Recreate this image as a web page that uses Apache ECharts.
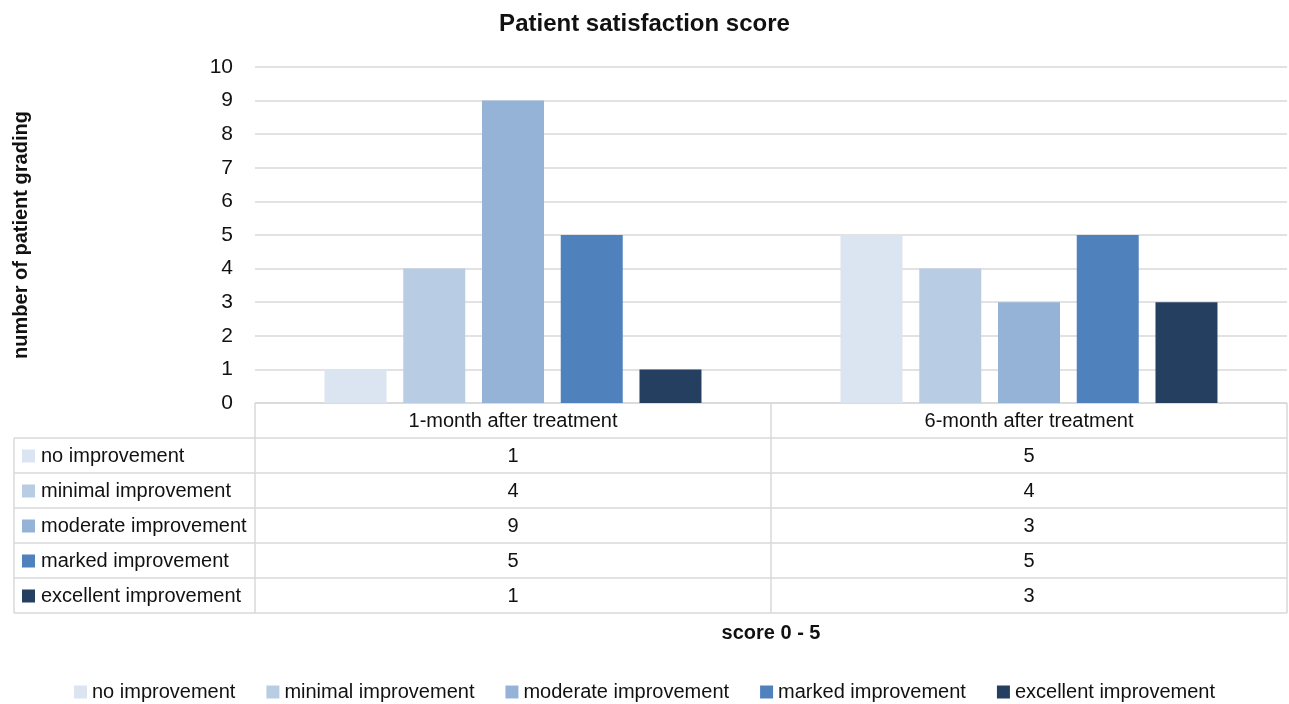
<!DOCTYPE html>
<html>
<head>
<meta charset="utf-8">
<script src="https://cdn.jsdelivr.net/npm/echarts@6/dist/echarts.min.js"></script>
<style>
  html, body { margin: 0; padding: 0; background: #fff; }
  #chart { width: 1289px; height: 704px; }
</style>
</head>
<body>
<div id="chart"></div>
<script>
const categories = ['1-month after treatment', '6-month after treatment'];
const seriesNames = ['no improvement', 'minimal improvement', 'moderate improvement', 'marked improvement', 'excellent improvement'];
const noImprovement = [1, 5];
const minimalImprovement = [4, 4];
const moderateImprovement = [9, 3];
const markedImprovement = [5, 5];
const excellentImprovement = [1, 3];
const colors = ['#dbe5f1', '#b8cce4', '#95b3d7', '#4f81bd', '#243f60'];

const seriesValues = [noImprovement, minimalImprovement, moderateImprovement, markedImprovement, excellentImprovement];

const font = 'Liberation Sans, Arial, sans-serif';
const W = 1289, H = 704;
const gridLeft = 255, gridRight = 2, gridTop = 67, gridBottom = 301;
const tableLeft = 14, rowH = 35;
const plotRight = W - gridRight;
const baseY = H - gridBottom;
const colW = (plotRight - gridLeft) / categories.length;
const lineColor = '#d9d9d9';

const chart = echarts.init(document.getElementById('chart'));

// data table drawn under the plot
const graphic = [];
const hline = (x1, x2, y) => graphic.push({ type: 'line', shape: { x1, y1: y, x2, y2: y }, style: { stroke: lineColor, lineWidth: 1.5 }, silent: true });
const vline = (x, y1, y2) => graphic.push({ type: 'line', shape: { x1: x, y1, x2: x, y2 }, style: { stroke: lineColor, lineWidth: 1.5 }, silent: true });

hline(gridLeft, plotRight, baseY);
for (let r = 1; r <= seriesNames.length + 1; r++) hline(tableLeft, plotRight, baseY + r * rowH);
vline(tableLeft, baseY + rowH, baseY + rowH * (seriesNames.length + 1));
for (let c = 0; c <= categories.length; c++) vline(gridLeft + c * colW, baseY, baseY + rowH * (seriesNames.length + 1));

seriesNames.forEach((name, i) => {
  const cy = baseY + rowH * (i + 1) + rowH / 2;
  graphic.push({ type: 'rect', shape: { x: 22, y: cy - 6, width: 13, height: 13 }, style: { fill: colors[i] }, silent: true });
  graphic.push({ type: 'text', x: 41, y: cy + 1, style: { text: name, font: '20px ' + font, fill: '#111', textVerticalAlign: 'middle' }, silent: true });
  seriesValues[i].forEach((v, c) => {
    graphic.push({ type: 'text', x: gridLeft + colW * (c + 0.5), y: cy + 1, style: { text: String(v), font: '20px ' + font, fill: '#111', textAlign: 'center', textVerticalAlign: 'middle' }, silent: true });
  });
});

const option = {
  animation: false,
  color: colors,
  textStyle: { fontFamily: font },
  title: {
    text: 'Patient satisfaction score',
    left: 'center',
    top: 7,
    textStyle: { fontSize: 24, fontWeight: 'bold', color: '#111', fontFamily: font }
  },
  grid: { left: gridLeft, right: gridRight, top: gridTop, bottom: gridBottom },
  legend: {
    top: 677,
    left: 'center',
    itemWidth: 13,
    itemHeight: 13,
    itemGap: 31,
    icon: 'rect',
    data: seriesNames,
    textStyle: { fontSize: 20, color: '#111', fontFamily: font }
  },
  xAxis: {
    type: 'category',
    data: categories,
    axisLine: { show: false },
    axisTick: { show: false },
    axisLabel: { fontSize: 20, color: '#111', margin: 8, fontFamily: font },
    name: 'score 0 - 5',
    nameLocation: 'middle',
    nameGap: 220,
    nameTextStyle: { fontSize: 20, fontWeight: 'bold', color: '#111', fontFamily: font }
  },
  yAxis: {
    type: 'value',
    min: 0,
    max: 10,
    interval: 1,
    axisLine: { show: false },
    axisTick: { show: false },
    splitLine: { lineStyle: { color: lineColor, width: 1.5 } },
    axisLabel: { fontSize: 21, color: '#111', margin: 22, fontFamily: font },
    name: 'number of patient grading',
    nameLocation: 'middle',
    nameGap: 224,
    nameRotate: 90,
    nameTextStyle: { fontSize: 20, fontWeight: 'bold', color: '#111', fontFamily: font }
  },
  series: seriesNames.map((name, i) => ({
    name,
    type: 'bar',
    data: seriesValues[i],
    barWidth: 62,
    barGap: '27%',
    itemStyle: { color: colors[i] }
  })),
  graphic
};

chart.setOption(option);
</script>
</body>
</html>
